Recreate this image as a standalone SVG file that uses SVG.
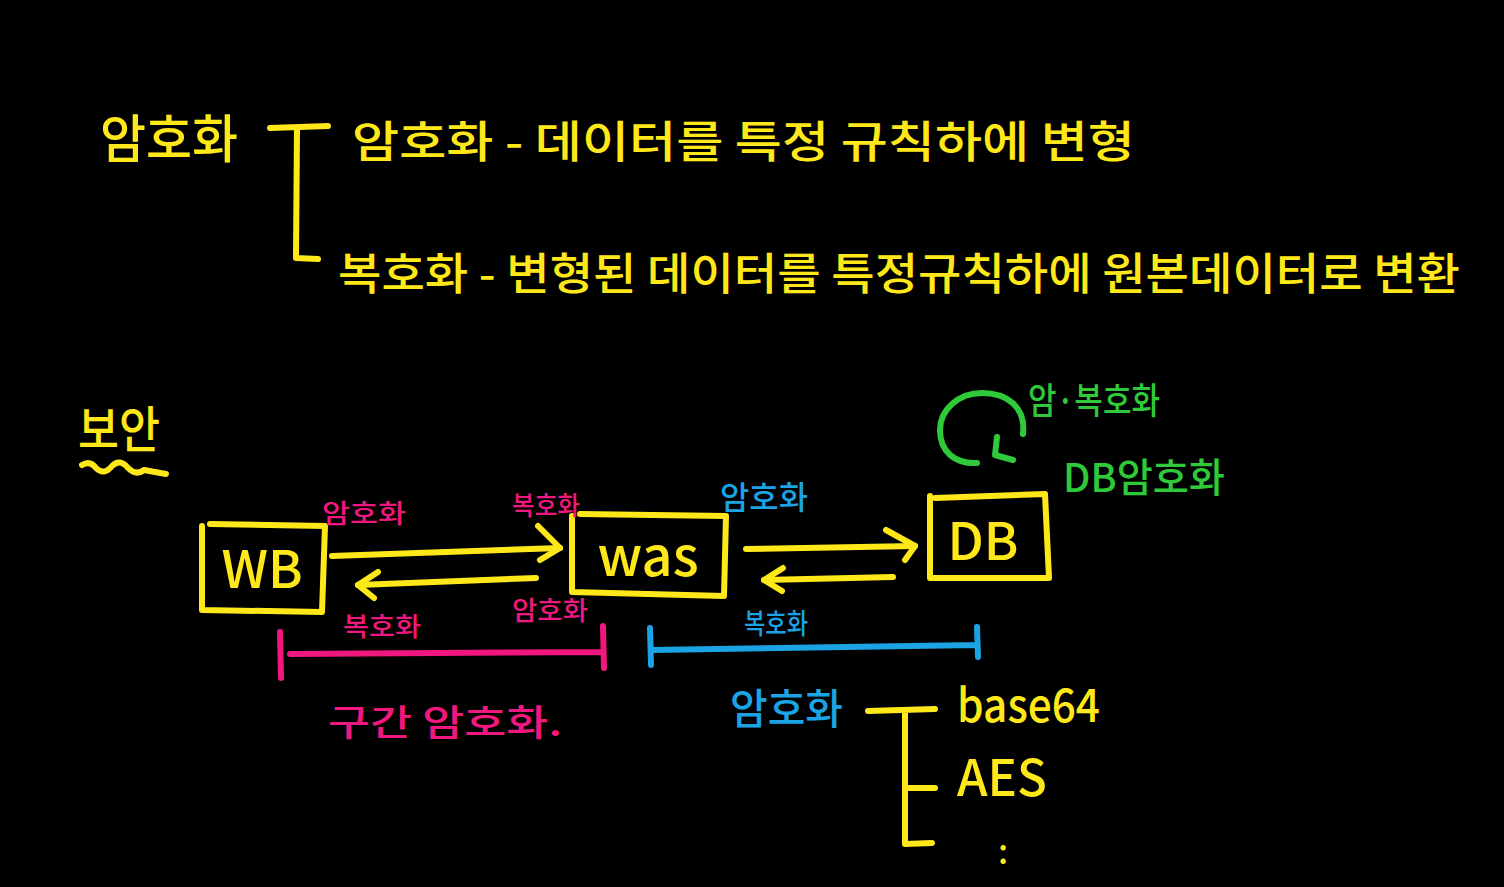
<svg xmlns="http://www.w3.org/2000/svg" width="1504" height="887" viewBox="0 0 1504 887">
<defs>
<style>
.y{fill:#ffe81a}.p{fill:#f0187f}.b{fill:#1ba3e3}.g{fill:#2fc93a}
text{font-family:"Noto Sans CJK KR","Noto Sans",sans-serif;font-weight:500}
.ls{fill:none;stroke-width:6;stroke-linecap:round;stroke-linejoin:round}
.sy{stroke:#ffe81a}.sp{stroke:#f0187f}.sb{stroke:#1ba3e3}.sg{stroke:#2fc93a}
</style>
</defs>
<rect width="1504" height="887" fill="#000"/>

<g id="title">
<text class="y" x="100" y="158" font-size="52" textLength="138" lengthAdjust="spacingAndGlyphs">암호화</text>
</g>
<g id="def-bracket">
<path class="ls sy" d="M270,128 L328,126 M297,128 L296,258 L318,259"/>
</g>
<g id="def-encrypt">
<text class="y" x="352" y="158" font-size="44" textLength="783" lengthAdjust="spacingAndGlyphs">암호화 - 데이터를 특정 규칙하에 변형</text>
</g>
<g id="def-decrypt">
<text class="y" x="338" y="290" font-size="44" textLength="1122" lengthAdjust="spacingAndGlyphs">복호화 - 변형된 데이터를 특정규칙하에 원본데이터로 변환</text>
</g>

<g id="security">
<text class="y" x="78" y="448" font-size="50" textLength="82" lengthAdjust="spacingAndGlyphs">보안</text>
<path class="ls sy" d="M82,465 Q90,460 96,468 Q104,476 112,466 Q120,458 128,468 Q136,476 144,470 L166,474" stroke-width="5"/>
</g>

<g id="node-wb">
<path class="ls sy" d="M202,526 L202,610 L322,612 L325,526 L210,524"/>
<text class="y" x="262" y="588" font-size="52" text-anchor="middle">WB</text>
</g>
<g id="node-was">
<path class="ls sy" d="M572,516 L572,592 L724,596 L726,516 L580,514"/>
<text class="y" x="648" y="576" font-size="54" text-anchor="middle">was</text>
</g>
<g id="node-db">
<path class="ls sy" d="M930,496 L930,578 L1049,578 L1045,494 L935,498"/>
<text class="y" x="983" y="560" font-size="52" text-anchor="middle">DB</text>
</g>

<g id="connectors">
<path class="ls sy" d="M332,556 L560,548"/>
<path class="ls sy" d="M538,526 L560,548 L540,560"/>
<path class="ls sy" d="M536,578 L358,585"/>
<path class="ls sy" d="M378,572 L358,585 L374,598"/>
<path class="ls sy" d="M746,549 L915,546"/>
<path class="ls sy" d="M886,530 L915,546 L905,560"/>
<path class="ls sy" d="M893,577 L764,580"/>
<path class="ls sy" d="M783,568 L764,580 L782,591"/>
<path class="ls sp" d="M280,632 L281,678 M290,654 L603,652 M603,626 L604,668"/>
<path class="ls sb" d="M650,628 L651,665 M652,650 L977,645 M977,627 L978,657"/>
<path class="ls sg" d="M1023,434 C1026,406 1006,393 982,393 C958,393 940,410 940,430 C940,452 955,464 977,463"/>
<path class="ls sg" d="M997,437 L995,455 L1013,460"/>
<path class="ls sy" d="M868,711 L935,709 M905,711 L905,844 L932,843 M905,788 L935,788"/>
</g>

<g id="labels">
<text class="p" x="322" y="523" font-size="26" textLength="84" lengthAdjust="spacingAndGlyphs">암호화</text>
<text class="p" x="512" y="515" font-size="26" textLength="68" lengthAdjust="spacingAndGlyphs">복호화</text>
<text class="p" x="343" y="636" font-size="26" textLength="78" lengthAdjust="spacingAndGlyphs">복호화</text>
<text class="p" x="512" y="620" font-size="26" textLength="76" lengthAdjust="spacingAndGlyphs">암호화</text>
<text class="b" x="720" y="509" font-size="32" textLength="88" lengthAdjust="spacingAndGlyphs">암호화</text>
<text class="b" x="744" y="634" font-size="28" textLength="64" lengthAdjust="spacingAndGlyphs">복호화</text>
<text class="p" x="328" y="736" font-size="36" textLength="234" lengthAdjust="spacingAndGlyphs">구간 암호화.</text>
<text class="g" x="1028" y="414" font-size="36" textLength="132" lengthAdjust="spacingAndGlyphs">암·복호화</text>
<text class="g" x="1063" y="492" font-size="40" textLength="162" lengthAdjust="spacingAndGlyphs">DB암호화</text>
<text class="b" x="730" y="724" font-size="42" textLength="113" lengthAdjust="spacingAndGlyphs">암호화</text>
<text class="y" x="957" y="722" font-size="46" textLength="143" lengthAdjust="spacingAndGlyphs">base64</text>
<text class="y" x="957" y="796" font-size="50" textLength="90" lengthAdjust="spacingAndGlyphs">AES</text>
<text class="y" x="998" y="864" font-size="34">:</text>
</g>
</svg>
